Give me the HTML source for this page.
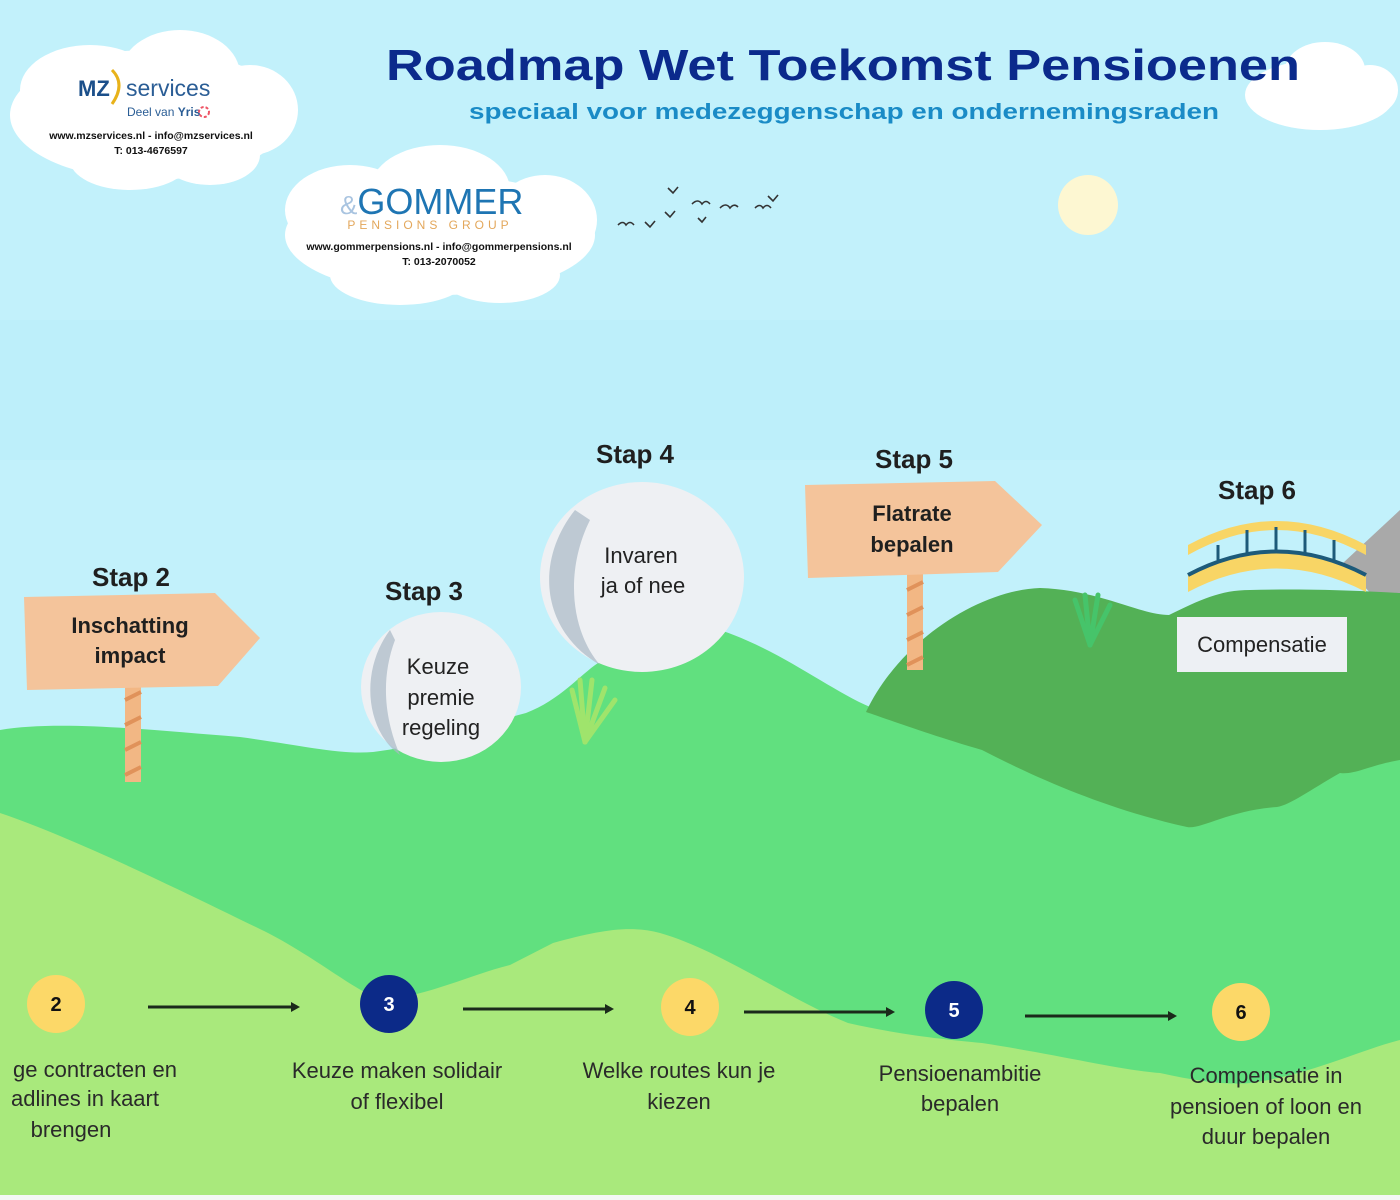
<!DOCTYPE html>
<html><head><meta charset="utf-8"><style>
html,body{margin:0;padding:0;width:1400px;height:1200px;overflow:hidden;background:#c2f1fb}
svg{display:block}
text{font-family:"Liberation Sans","DejaVu Sans",sans-serif}
</style></head><body>
<svg width="1400" height="1200" viewBox="0 0 1400 1200" xmlns="http://www.w3.org/2000/svg">
<rect width="1400" height="1200" fill="#c2f1fb"/>
<rect y="320" width="1400" height="140" fill="#bdeffa"/>
<!-- clouds -->
<g fill="#ffffff">
<ellipse cx="150" cy="115" rx="140" ry="65"/><ellipse cx="180" cy="75" rx="60" ry="45"/><ellipse cx="90" cy="90" rx="70" ry="45"/><ellipse cx="250" cy="110" rx="48" ry="45"/><ellipse cx="130" cy="160" rx="60" ry="30"/><ellipse cx="210" cy="155" rx="50" ry="30"/>
<ellipse cx="440" cy="235" rx="155" ry="60"/><ellipse cx="440" cy="190" rx="70" ry="45"/><ellipse cx="350" cy="210" rx="65" ry="45"/><ellipse cx="545" cy="220" rx="52" ry="45"/><ellipse cx="400" cy="275" rx="70" ry="30"/><ellipse cx="500" cy="275" rx="60" ry="28"/>
<ellipse cx="1320" cy="95" rx="75" ry="35"/><ellipse cx="1325" cy="70" rx="40" ry="28"/><ellipse cx="1370" cy="90" rx="28" ry="25"/>
</g>
<circle cx="1088" cy="205" r="30" fill="#fdf7d2"/>
<!-- birds -->
<g stroke="#333" stroke-width="1.6" fill="none">
<path d="M618 225 q5 -5 8 0 q4 -5 8 0"/><path d="M645 222 l5 5 l5 -6"/><path d="M668 188 l5 5 l5 -6"/><path d="M665 212 l5 5 l5 -6"/><path d="M692 204 q6 -6 10 0 q4 -5 8 0"/><path d="M698 218 l4 4 l4 -5"/><path d="M720 208 q6 -6 10 0 q4 -5 8 -1"/><path d="M755 208 q5 -5 8 0 q4 -5 8 0"/><path d="M768 196 l5 5 l5 -6"/>
</g>
<!-- title -->
<text x="843" y="80" text-anchor="middle" font-family="DejaVu Sans" font-weight="bold" font-size="44" fill="#0b2a8c" textLength="914" lengthAdjust="spacingAndGlyphs">Roadmap Wet Toekomst Pensioenen</text>
<text x="844" y="119" text-anchor="middle" font-family="DejaVu Sans" font-weight="bold" font-size="22" fill="#1a8bc6" textLength="750" lengthAdjust="spacingAndGlyphs">speciaal voor medezeggenschap en ondernemingsraden</text>
<!-- MZ logo -->
<text x="78" y="96" font-size="22" font-weight="bold" fill="#1b4f8a">MZ</text>
<path d="M112 70 q14 14 0 34" stroke="#e8b21a" stroke-width="3" fill="none"/>
<text x="126" y="96" font-size="23" fill="#2a5d95">services</text>
<text x="127" y="116" font-size="12" fill="#2a5d95">Deel van <tspan font-weight="bold">Yris</tspan></text>
<circle cx="204" cy="112" r="5" fill="none" stroke="#e56" stroke-width="2" stroke-dasharray="3 2"/>
<text x="151" y="139" text-anchor="middle" font-size="10.5" font-weight="bold" fill="#111">www.mzservices.nl - info@mzservices.nl</text>
<text x="151" y="154" text-anchor="middle" font-size="10.5" font-weight="bold" fill="#111">T: 013-4676597</text>
<!-- Gommer logo -->
<text x="340" y="214" font-family="Liberation Serif" font-size="36" fill="#1e75b3"><tspan fill="#a9c4e0" font-size="26">&amp;</tspan>GOMMER</text>
<text x="430" y="229" text-anchor="middle" font-size="12" fill="#e3a75b" letter-spacing="4">PENSIONS GROUP</text>
<text x="439" y="250" text-anchor="middle" font-size="10.5" font-weight="bold" fill="#111">www.gommerpensions.nl - info@gommerpensions.nl</text>
<text x="439" y="265" text-anchor="middle" font-size="10.5" font-weight="bold" fill="#111">T: 013-2070052</text>
<!-- gray mountain -->
<path d="M1343 563 L1400 510 L1400 610 L1383 607 Z" fill="#a9a9a9"/>
<!-- mid green -->
<path d="M0 730 C60 720 150 730 240 737 C300 745 340 755 373 752 C430 745 480 725 526 713 C560 700 580 675 598 663 C650 640 690 628 720 630 C780 650 830 690 870 707 L1400 740 L1400 1200 L0 1200 Z" fill="#61e07f"/>
<!-- dark green hill -->
<path d="M866 712 C900 640 980 590 1040 588 C1100 590 1140 615 1169 615 C1200 600 1220 590 1250 590 C1320 588 1380 592 1400 593 L1400 760 C1370 765 1355 775 1340 773 C1310 790 1290 805 1277 807 C1230 810 1200 830 1187 827 C1110 810 1040 780 982 750 C930 735 890 720 866 712 Z" fill="#53b156"/>
<!-- light green -->
<path d="M0 813 C80 840 200 900 268 933 C320 960 360 995 384 1000 C430 995 470 975 510 965 L553 943 C600 930 630 925 660 933 C720 950 790 1000 848 1023 C900 1035 950 1040 982 1043 C1060 1055 1120 1070 1160 1073 C1200 1082 1230 1085 1250 1083 C1310 1075 1360 1050 1400 1040 L1400 1200 L0 1200 Z" fill="#a9e97c"/>
<rect y="1195" width="1400" height="5" fill="#f4f8f4"/>
<!-- grass -->
<g stroke="#9fe46c" stroke-width="5" fill="none" stroke-linecap="round">
<path d="M585 742 L572 690"/><path d="M585 742 L580 680"/><path d="M585 742 L592 680"/><path d="M585 742 L605 688"/><path d="M585 742 L615 700"/>
</g>
<g stroke="#46c46a" stroke-width="5" fill="none" stroke-linecap="round">
<path d="M1090 645 L1075 600"/><path d="M1090 645 L1085 595"/><path d="M1090 645 L1098 595"/><path d="M1090 645 L1110 605"/>
</g>
<!-- stones -->
<ellipse cx="441" cy="687" rx="80" ry="75" fill="#eef0f3"/>
<path d="M390 630 C360 670 365 730 400 755 C385 720 380 680 395 640 Z" fill="#a9b8c4" opacity="0.7"/>
<ellipse cx="642" cy="577" rx="102" ry="95" fill="#eef0f3"/>
<path d="M575 510 C535 560 540 630 600 665 C570 630 565 570 590 520 Z" fill="#a9b8c4" opacity="0.7"/>
<!-- Signs -->
<g fill="#1f1f1f" font-family="DejaVu Sans" font-weight="bold">
<text x="131" y="586" text-anchor="middle" font-size="26">Stap 2</text>
<text x="424" y="600" text-anchor="middle" font-size="26">Stap 3</text>
<text x="635" y="463" text-anchor="middle" font-size="26">Stap 4</text>
<text x="914" y="468" text-anchor="middle" font-size="26">Stap 5</text>
<text x="1257" y="499" text-anchor="middle" font-size="26">Stap 6</text>
</g>
<rect x="125" y="680" width="16" height="102" fill="#f2b784"/>
<path d="M125 700 l16 -8 M125 725 l16 -8 M125 750 l16 -8 M125 775 l16 -8" stroke="#e0925a" stroke-width="4"/>
<path d="M24 597 L215 593 L260 638 L218 686 L27 690 Z" fill="#f4c49b"/>
<rect x="907" y="570" width="16" height="100" fill="#f2b784"/>
<path d="M907 590 l16 -8 M907 615 l16 -8 M907 640 l16 -8 M907 665 l16 -8" stroke="#e0925a" stroke-width="4"/>
<path d="M805 485 L995 481 L1042 525 L998 572 L808 578 Z" fill="#f4c49b"/>
<g fill="#1f1f1f" font-family="DejaVu Sans" font-weight="bold" font-size="22" text-anchor="middle">
<text x="130" y="633">Inschatting</text><text x="130" y="663">impact</text>
<text x="912" y="521">Flatrate</text><text x="912" y="552">bepalen</text>
</g>
<g fill="#222" font-family="DejaVu Sans" font-size="22" text-anchor="middle">
<text x="438" y="674">Keuze</text><text x="441" y="705">premie</text><text x="441" y="735">regeling</text>
<text x="641" y="563">Invaren</text><text x="643" y="593">ja of nee</text>
</g>
<!-- bridge -->
<path d="M1188 555 Q1276 505 1366 555 L1366 545 Q1276 497 1188 545 Z" fill="#f8d565"/>
<path d="M1188 592 Q1276 545 1366 592 L1366 575 Q1276 528 1188 575 Z" fill="#f8d565"/>
<path d="M1188 575 Q1276 528 1366 575" stroke="#1d5a7a" stroke-width="4" fill="none"/>
<g stroke="#1d5a7a" stroke-width="3"><path d="M1218 560 V545 M1247 555 V530 M1276 553 V527 M1305 555 V530 M1334 560 V540"/></g>
<rect x="1177" y="617" width="170" height="55" fill="#edf0f4"/>
<text x="1262" y="652" text-anchor="middle" font-family="DejaVu Sans" font-size="22" fill="#222">Compensatie</text>
<!-- bottom timeline -->
<g font-family="DejaVu Sans" font-weight="bold" font-size="20" text-anchor="middle">
<circle cx="56" cy="1004" r="29" fill="#fcd868"/><text x="56" y="1011" fill="#111">2</text>
<circle cx="389" cy="1004" r="29" fill="#0c2a88"/><text x="389" y="1011" fill="#fff">3</text>
<circle cx="690" cy="1007" r="29" fill="#fcd868"/><text x="690" y="1014" fill="#111">4</text>
<circle cx="954" cy="1010" r="29" fill="#0c2a88"/><text x="954" y="1017" fill="#fff">5</text>
<circle cx="1241" cy="1012" r="29" fill="#fcd868"/><text x="1241" y="1019" fill="#111">6</text>
</g>
<g stroke="#1b2a1b" stroke-width="3">
<line x1="148" y1="1007" x2="292" y2="1007"/><line x1="463" y1="1009" x2="606" y2="1009"/><line x1="744" y1="1012" x2="887" y2="1012"/><line x1="1025" y1="1016" x2="1169" y2="1016"/>
</g>
<g fill="#1b2a1b"><path d="M300 1007 l-9 -5 v10z"/><path d="M614 1009 l-9 -5 v10z"/><path d="M895 1012 l-9 -5 v10z"/><path d="M1177 1016 l-9 -5 v10z"/></g>
<g fill="#2a2a2a" font-family="DejaVu Sans" font-size="22" text-anchor="middle">
<text x="95" y="1077">ge contracten en</text><text x="85" y="1106">adlines in kaart</text><text x="71" y="1137">brengen</text>
<text x="397" y="1078">Keuze maken solidair</text><text x="397" y="1109">of flexibel</text>
<text x="679" y="1078">Welke routes kun je</text><text x="679" y="1109">kiezen</text>
<text x="960" y="1081">Pensioenambitie</text><text x="960" y="1111">bepalen</text>
<text x="1266" y="1083">Compensatie in</text><text x="1266" y="1114">pensioen of loon en</text><text x="1266" y="1144">duur bepalen</text>
</g>
</svg>
</body></html>
